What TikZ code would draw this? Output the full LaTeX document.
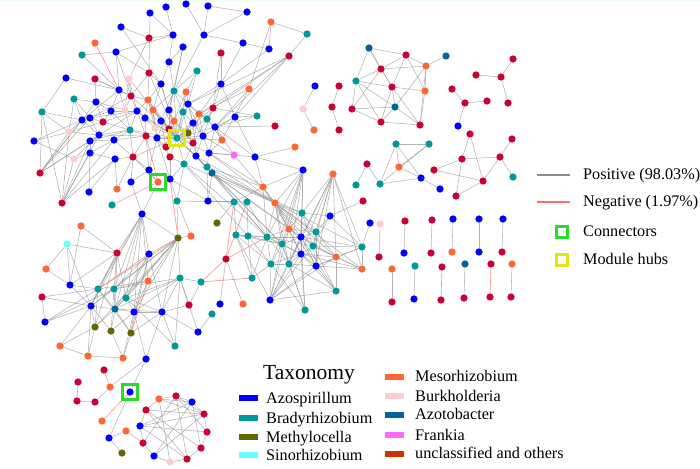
\documentclass[tikz,border=0pt]{standalone}
\usepackage{fontspec}
\setmainfont{Liberation Serif}
\definecolor{caz}{RGB}{0,0,255}
\definecolor{cbr}{RGB}{0,153,153}
\definecolor{cme}{RGB}{102,102,0}
\definecolor{csi}{RGB}{102,255,255}
\definecolor{cms}{RGB}{255,102,51}
\definecolor{cbu}{RGB}{255,204,204}
\definecolor{cat}{RGB}{0,102,153}
\definecolor{cfr}{RGB}{255,102,255}
\definecolor{cun}{RGB}{204,0,51}
\definecolor{cunl}{RGB}{204,51,0}
\definecolor{cpos}{RGB}{140,140,140}
\definecolor{cneg}{RGB}{255,110,110}
\definecolor{cgreen}{RGB}{40,220,40}
\definecolor{cyell}{RGB}{228,228,20}
\pgfdeclarelayer{bg}
\pgfsetlayers{bg,main}
\tikzset{
  nd/.style={circle,inner sep=0pt,minimum size=7.3pt,draw=none},
  az/.style={fill=caz}, br/.style={fill=cbr}, me/.style={fill=cme},
  si/.style={fill=csi}, ms/.style={fill=cms}, bu/.style={fill=cbu},
  ab/.style={fill=cat}, fr/.style={fill=cfr}, un/.style={fill=cun},
  posedge/.style={draw=cpos,line width=0.55pt,opacity=0.65},
  negedge/.style={draw=cneg,line width=0.6pt,opacity=0.8},
  consq/.style={rectangle,draw=cgreen,line width=3pt,minimum size=15pt,inner sep=0pt},
  hubsq/.style={rectangle,draw=cyell,line width=3pt,minimum size=15pt,inner sep=0pt},
  sw/.style={rectangle,inner sep=0pt,minimum width=19pt,minimum height=6.6pt},
  lt/.style={anchor=base west,inner sep=0pt,font=\fontsize{16.2}{18}\selectfont},
}
\begin{document}
\begin{tikzpicture}[x=1pt,y=-1pt]
\useasboundingbox (0,0) rectangle (700,468);
\fill[green!7] (0,0) rectangle (700,1.5);
% ---------------- nodes
\foreach \n/\x/\y/\s in {
t1/166/7/az, t2/186/4/az, t3/208/6/az, t4/247/12/az, t5/150/13/az, t6/121/27/az, t7/149/38/un, t8/173/35/az, t9/204/35/az, t10/271/22/ms,
t11/307/34/br, t12/243/43/az, t13/269/49/az, t14/289/56/un, t15/95/43/ms, t16/82/55/br, t17/116/52/az, t18/183/47/az, t19/221/53/un, t20/169/62/az,
t21/197/71/br, t22/149/73/un, t23/66/78/az, t24/95/79/un, t25/129/79/bu, t26/221/84/az, t27/249/89/ms, t28/161/84/az, t29/119/90/az, t30/174/91/br,
t31/186/92/ms, t32/74/99/br, t33/131/96/un, t34/96/102/az, t35/148/100/ms, t36/188/104/az, t37/213/108/un, t38/42/112/br, t39/111/111/az, t40/125/110/bu,
t41/137/111/az, t42/153/110/ms, t43/169/110/az, t44/183/112/br, t45/199/114/ms, t46/207/119/br, t47/235/117/az, t48/257/116/br, t49/82/120/az, t50/90/118/az,
t51/103/122/un, t52/145/118/az, t53/161/121/az, t54/174/121/ms, t55/193/123/az, t56/275/126/un, t57/130/130/br, t58/155/128/bu, t59/169/129/un, t60/215/127/az,
t61/69/132/bu, t62/99/135/az, t63/114/140/az, t64/146/136/un, t65/157/138/az, t66/177/138/br, t67/188/133/me, t68/203/136/az, t69/34/141/az, t70/90/141/az,
t71/166/147/un, t72/193/143/un, t73/222/140/ms, t74/295/147/ms, t75/90/153/az, t76/115/159/az, t77/133/157/un, t78/170/157/un, t79/196/156/az, t80/209/153/az,
t81/234/155/fr, t82/255/157/az, t83/74/159/bu, t84/184/164/br, t85/207/167/br, t86/212/173/ab, t87/149/170/az, t88/40/173/un, t89/131/182/az, t90/158/182/ms,
t91/170/179/az, t92/117/189/ms, t93/89/192/az, t94/62/203/un, t95/112/205/br, t96/177/201/br, t97/208/201/az, t98/142/214/az,
m1/303/170/az, m2/333/174/ms, m3/263/187/ms, m4/234/202/br, m5/247/202/br, m6/275/203/ms, m7/302/213/br, m8/330/216/az, m9/217/223/me, m10/236/235/br,
m11/248/236/br, m12/267/237/br, m13/289/229/ms, m14/316/232/br, m15/301/237/az, m16/282/244/br, m17/313/246/br, m18/362/247/br, m19/301/254/az, m20/336/257/ms,
m21/271/264/br, m22/289/264/br, m23/316/266/az, m24/362/269/ms, m25/226/259/un, m26/252/278/br, m27/201/282/br, m28/270/300/az, m29/336/291/br, m30/220/304/az,
m31/243/304/ms, m32/212/314/br, m33/305/310/br, m34/363/201/un, m35/370/223/az,
l1/81/226/ms, l2/191/236/ms, l3/178/238/me, l4/67/244/si, l5/117/253/un, l6/149/254/az, l7/46/269/ms, l8/180/278/br, l9/148/281/ms, l10/70/285/az,
l11/98/289/br, l12/114/289/br, l13/126/298/br, l14/42/297/un, l15/91/306/az, l16/115/309/ab, l17/134/312/az, l18/162/312/az, l19/189/305/un, l20/45/322/az,
l21/95/327/me, l22/111/331/me, l23/131/333/me, l24/198/332/az, l25/175/346/br, l26/60/346/ms, l27/88/356/ms, l28/123/358/ms, l29/146/359/az,
b1/104/370/un, b2/78/382/un, b3/110/387/ms, b4/130/392/az, b5/77/401/un, b6/95/402/un, b7/102/421/ms, b8/126/431/ms, b9/109/438/az, b10/122/453/me,
c1/159/399/ms, c2/176/396/un, c3/192/402/az, c4/146/410/un, c5/204/414/un, c6/140/426/az, c7/207/432/un, c8/143/443/un, c9/201/448/un, c10/154/456/az,
c11/170/462/bu, c12/187/459/un,
r1/369/48/ab, r2/406/55/un, r3/446/56/ab, r4/381/69/un, r5/426/66/ms, r6/356/81/br, r7/392/87/un, r8/425/91/ms, r9/395/107/ab, r10/352/109/un,
r11/381/122/un, r12/420/125/un,
s1/315/86/az, s2/303/109/bu, s3/314/130/ms, s4/339/86/un, s5/332/107/un, s6/339/130/un,
p1/513/59/un, p2/476/75/un, p3/501/77/un, p4/452/89/un, p5/465/103/un, p6/487/101/un, p7/508/103/un, p8/458/126/az,
q1/470/134/un, q2/512/139/un, q3/396/144/br, q4/429/144/br, q5/367/164/un, q6/399/167/ms, q7/462/159/un, q8/500/157/un, q9/434/170/un, q10/356/185/br,
q11/380/184/br, q12/421/178/az, q13/440/189/az, q14/483/181/un, q15/456/196/un, q16/513/177/br,
d2/380/224/bu, d3/379/257/un, d4/405/221/un, d5/404/253/az, d6/432/220/un, d7/431/253/un, d8/453/219/az, d9/452/252/ms, d10/479/219/az, d11/479/252/az,
d12/503/219/az, d13/502/252/un, d14/392/269/ms, d15/392/302/un, d16/415/266/br, d17/414/299/az, d18/442/267/un, d19/441/300/un, d20/465/264/ab, d21/464/298/un,
d22/491/264/un, d23/490/297/un, d24/512/264/ms, d25/511/297/un}
  {\node[nd,\s] (\n) at (\x,\y) {};}
% ---------------- edges
\begin{pgfonlayer}{bg}
\foreach \a/\b in {
t1/t8, t5/t8, t2/t9, t3/t4, t3/t9, t4/t9, t6/t7, t6/t28, t7/t8, t8/t17, t8/t20, t9/t12, t9/t30, t10/t11, t10/t13, t10/t27, t11/t14, t14/t45, t14/t60, t14/t47,
t14/t36, t14/t37, t13/t26, t12/t26, t19/t37, t16/t17, t16/t29, t17/t22, t17/t29, t17/t33, t18/t20, t18/t43, t18/t30, t21/t31, t21/t36, t21/t30, t23/t38, t23/t29,
t24/t34, t24/t29, t24/t33, t26/t47, t26/t36, t26/t45, t27/t45, t27/t73, t27/t60, t38/t88, t38/t94, t38/t49, t38/t61, t69/t61, t69/t49, t5/t22, t7/t25, t20/t28,
t20/t30, t22/t28, t22/t35, t22/t33, t25/t33, t25/t40, t26/t37, t19/t26, t12/t13,
t66/t30, t66/t31, t66/t35, t66/t36, t66/t41, t66/t42, t66/t43, t66/t44, t66/t45, t66/t46, t66/t52, t66/t53, t66/t54, t66/t55, t66/t58, t66/t59, t66/t64, t66/t65,
t66/t67, t66/t68, t66/t71, t66/t72, t66/t78, t66/t79, t66/t80, t66/t84, t66/t28, t66/t33, t66/t37, t66/t60, t66/t73, t66/t85, t66/t86, t66/t25, t66/t22, t66/t57, t66/t77,
t30/t43, t30/t44, t30/t53, t30/t36, t30/t42, t31/t44, t31/t54, t31/t55, t35/t41, t35/t52, t35/t53, t35/t58, t36/t45, t36/t46, t36/t55, t36/t68, t37/t46, t37/t68,
t37/t72, t41/t52, t41/t57, t41/t64, t42/t53, t42/t58, t42/t65, t43/t54, t43/t59, t43/t65, t44/t55, t44/t67, t45/t46, t45/t68, t45/t72, t46/t60, t46/t73, t52/t58,
t52/t64, t53/t59, t53/t71, t54/t67, t54/t72, t55/t68, t55/t79, t57/t64, t57/t77, t58/t65, t59/t71, t60/t73, t60/t80, t64/t77, t65/t71, t65/t78, t67/t72, t68/t79,
t68/t80, t71/t78, t72/t79, t72/t84, t73/t80, t77/t87, t78/t84, t79/t85, t80/t85, t84/t91, t85/t86, t28/t35, t28/t42, t28/t43, t25/t41, t33/t40, t33/t41, t33/t35,
t29/t33, t29/t39, t29/t40,
t39/t41, t39/t57, t40/t57, t51/t57, t62/t57, t63/t57, t63/t64, t50/t33, t49/t29, t34/t40, t51/t41, t62/t41, t70/t57, t76/t77, t75/t63, t34/t51, t39/t51, t49/t50,
t49/t62, t50/t62, t50/t51, t61/t62, t61/t49, t32/t49, t32/t34, t32/t50, t70/t62, t70/t75, t70/t63, t75/t76, t83/t75, t83/t62, t88/t61, t88/t49, t88/t50, t88/t62,
t88/t70, t88/t34, t94/t61, t94/t83, t94/t70, t94/t63, t94/t75, t94/t76, t94/t62, t93/t75, t93/t76, t92/t76, t92/t77, t89/t77, t89/t87, t87/t64, t87/t65, t90/t87,
t90/t98, t90/t77, t91/t78, t91/t65, t91/t96, t91/t97, t96/t84, t97/t85, t97/t86, t98/t89, t49/t39, t50/t41, t61/t51, t62/t64, t69/t83, t63/t77, t34/t39, t32/t61,
t47/t60, t47/t68, t47/t82, t48/t60, t48/t37, t56/t60, t74/t82, t81/t60, t81/t68, t81/t80, t82/t80, t82/t60, t48/t47,
t86/m7, t86/m6, t85/m16, t84/m12, t86/m13, t85/m3, t80/m3, t82/m3, t85/m6, t80/m6, t79/m6, t84/m6, t86/m15, t85/m12, t97/m4, t97/m5, t96/m4, t84/m11, t79/m12,
t82/m1, t81/m6, t86/m16,
m3/m6, m3/m1, m3/m12, m3/m13, m3/m4, m1/m6, m1/m12, m1/m13, m1/m15, m1/m16, m1/m19, m1/m22, m1/m21, m2/m13, m2/m14, m2/m15, m2/m17, m2/m19, m2/m20, m2/m22,
m2/m24, m2/m23, m2/m18, m6/m7, m6/m13, m6/m14, m6/m15, m6/m16, m6/m17, m6/m20, m6/m23, m6/m19, m6/m22, m6/m24, m6/m18, m6/m12, m7/m14, m7/m15, m7/m17, m8/m14,
m8/m17, m8/m7, m8/m18, m8/m34, m10/m11, m10/m12, m10/m21, m10/m26, m10/m28, m10/m16, m11/m12, m11/m16, m11/m21, m12/m13, m12/m15, m12/m16, m12/m19, m12/m21,
m12/m22, m12/m17, m13/m15, m13/m16, m13/m14, m13/m19, m14/m15, m14/m17, m14/m20, m14/m23, m15/m16, m15/m17, m15/m19, m15/m20, m15/m22, m15/m23, m15/m18, m16/m19,
m16/m21, m16/m22, m16/m28, m17/m19, m17/m20, m17/m23, m17/m24, m17/m18, m19/m20, m19/m22, m19/m23, m19/m21, m19/m24, m19/m29, m20/m23, m20/m24, m20/m18, m21/m22,
m21/m28, m21/m26, m22/m23, m22/m28, m22/m29, m23/m24, m23/m29, m23/m18, m24/m18, m28/m13, m28/m15, m28/m19, m28/m23, m28/m17, m28/m29, m28/m20, m33/m19, m33/m22,
m33/m15, m33/m16, m33/m21, m29/m20, m29/m15, m29/m17, m5/m11, m5/m12, m4/m10, m18/m35, m30/m25, m31/m25, m32/l24, m9/m4, m26/m12, m26/m11,
l2/t96, l3/t96, l3/l6, l3/l12, l3/l13, l3/l17, l3/l16, l3/l9, l3/l18, l3/l8, l3/l15, l3/l21, l3/t98, l4/l7, l4/l5, l4/l10, l4/l15, l1/l5, l1/l10, l5/l11, l5/l12,
l5/l13, l5/l15, l5/l10, l5/l16, l5/l21, l6/l11, l6/l12, l6/l13, l6/l17, l6/l18, l6/l16, l6/l23, l8/l12, l8/l13, l8/l17, l8/l18, l8/l24, l8/l25, l8/l19, l8/m27,
l8/l16, l9/l11, l9/l12, l9/l17, l10/l15, l10/l11, l14/l15, l14/l11, l15/l21, l15/l22, l15/l16, l15/l27, l15/l11, l15/l12, l16/l21, l16/l22, l16/l23, l16/l11,
l16/l12, l16/l13, l16/l17, l16/l18, l17/l22, l17/l23, l17/l18, l17/l28, l17/l13, l18/l23, l18/l25, l18/l24, l18/l19, l18/l29, l18/l13, l19/m27, l20/l15, l20/l11,
l20/l12, l21/l26, l21/l27, l21/l11, l22/l28, l22/l12, l23/l28, l23/l11, l25/l13, l26/l27, l26/l15, l27/l28, l29/l17, t98/l5, t98/l11, t98/l12, t98/l13,
t98/l16, t98/l17, t98/l6, t98/l15, t98/l9, l2/l3, l14/l20, l7/l10,
b1/b3, b3/b6, b6/b5, b5/b2, b3/l29, b4/l29, b4/b9, b9/b10, b9/b8, b8/c8,
c1/c2, c2/c3, c3/c5, c5/c7, c7/c9, c9/c12, c12/c11, c11/c10, c10/c8, c8/c6, c6/c4, c4/c1, c1/c3, c1/c5, c2/c5, c2/c12, c3/c6, c3/c9, c4/c5, c4/c12, c6/c7,
c6/c5, c8/c2, c10/c3, c10/c5, c1/c11, c4/c9, c6/c12, c2/c7,
r1/r2, r1/r6, r1/r4, r1/r7, r2/r4, r2/r5, r2/r7, r2/r8, r3/r5, r4/r5, r4/r6, r4/r7, r4/r10, r6/r7, r6/r10, r6/r11, r6/r9, r7/r8, r7/r9, r7/r11, r7/r12, r5/r8,
r5/r12, r5/r9, r8/r12, r9/r10, r9/r11, r10/r11, r11/r12, r9/r12,
p1/p3, p2/p3, p3/p7, p4/p5, p5/p6, p5/p8, s1/s2, s2/s3, s4/s5, s5/s6,
q5/q10, q5/q11, q11/q3, q3/q4, q3/q6, q3/q12, q4/q6, q4/q11, q6/q12, q11/q12, q12/q13, q1/q7, q1/q14, q9/q7, q9/q14, q7/q8, q7/q15, q8/q2, q8/q16, q8/q14, q14/q15,
d2/d3, d4/d5, d6/d7, d8/d9, d10/d11, d12/d13, d14/d15, d16/d17, d20/d21, d24/d25}
  {\draw[posedge] (\a) -- (\b);}
\foreach \a/\b in {t15/t29, t64/t90, t95/t90, t91/l3, m25/m4, m25/m5, m25/m12, m25/m27, m27/m26, l3/l11, l9/l23, b4/b7, d18/d19, d22/d23}
  {\draw[negedge] (\a) -- (\b);}
\end{pgfonlayer}
% ---------------- highlight squares
\node[hubsq] (h1) at (t66.center) {};
\node[consq] (g1) at (t90.center) {};
\node[consq] (g2) at (b4.center) {};
% ---------------- right legend
\coordinate (pl1) at (537,175); \coordinate (pl2) at (570,175);
\coordinate (nl1) at (537,202); \coordinate (nl2) at (570,202);
\draw[draw=cpos,line width=1.1pt] (pl1) -- (pl2);
\draw[draw=cneg,line width=1.1pt] (nl1) -- (nl2);
\node[rectangle,draw=cgreen,line width=2.8pt,minimum size=11pt,inner sep=0pt] (lg1) at (562,232) {};
\node[rectangle,draw=cyell,line width=2.8pt,minimum size=11pt,inner sep=0pt] (lg2) at (562,260) {};
\node[lt] (lp) at (583,179) {Positive (98.03\%)};
\node[lt] (ln) at (583,206) {Negative (1.97\%)};
\node[lt] (lc) at (583,236) {Connectors};
\node[lt] (lh) at (583,264) {Module hubs};
% ---------------- taxonomy legend
\node[anchor=base west,inner sep=0pt,font=\fontsize{21.5}{24}\selectfont] (tax) at (263,379) {Taxonomy};
\node[sw,fill=caz] (w1) at (248,398) {}; \node[lt] (x1) at (266,403) {Azospirillum};
\node[sw,fill=cbr] (w2) at (248,418) {}; \node[lt] (x2) at (266,423) {Bradyrhizobium};
\node[sw,fill=cme] (w3) at (248,437) {}; \node[lt] (x3) at (266,442) {Methylocella};
\node[sw,fill=csi] (w4) at (248,455) {}; \node[lt] (x4) at (266,460) {Sinorhizobium};
\node[sw,fill=cms] (w5) at (394,377) {}; \node[lt] (x5) at (415,381) {Mesorhizobium};
\node[sw,fill=cbu] (w6) at (394,396) {}; \node[lt] (x6) at (415,401) {Burkholderia};
\node[sw,fill=cat] (w7) at (394,415) {}; \node[lt] (x7) at (415,419) {Azotobacter};
\node[sw,fill=cfr] (w8) at (394,435) {}; \node[lt] (x8) at (415,440) {Frankia};
\node[sw,fill=cunl] (w9) at (394,454) {}; \node[lt] (x9) at (415,458) {unclassified and others};
\end{tikzpicture}
\end{document}
